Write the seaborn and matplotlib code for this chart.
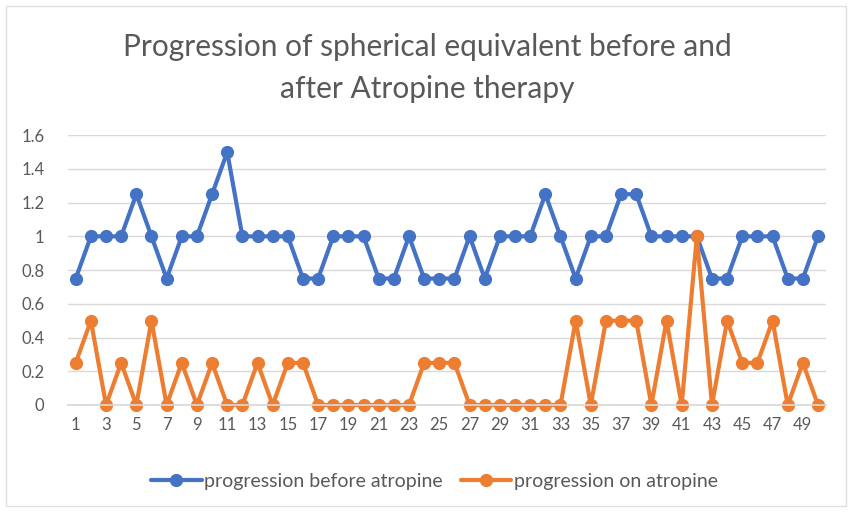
import numpy as np
import pandas as pd
import matplotlib.pyplot as plt
from matplotlib.patches import Rectangle
from matplotlib.lines import Line2D
import seaborn as sns

sns.set_theme(style="white")
plt.rcParams['font.family'] = ['Lato', 'DejaVu Sans']

# --- data ---
patients = list(range(1, 51))
before_atropine = [0.75, 1, 1, 1, 1.25, 1, 0.75, 1, 1, 1.25,
                   1.5, 1, 1, 1, 1, 0.75, 0.75, 1, 1, 1,
                   0.75, 0.75, 1, 0.75, 0.75, 0.75, 1, 0.75, 1, 1,
                   1, 1.25, 1, 0.75, 1, 1, 1.25, 1.25, 1, 1,
                   1, 1, 0.75, 0.75, 1, 1, 1, 0.75, 0.75, 1]
on_atropine = [0.25, 0.5, 0, 0.25, 0, 0.5, 0, 0.25, 0, 0.25,
               0, 0, 0.25, 0, 0.25, 0.25, 0, 0, 0, 0,
               0, 0, 0, 0.25, 0.25, 0.25, 0, 0, 0, 0,
               0, 0, 0, 0.5, 0, 0.5, 0.5, 0.5, 0, 0.5,
               0, 1, 0, 0.5, 0.25, 0.25, 0.5, 0, 0.25, 0]
series_names = ['progression before atropine', 'progression on atropine']
series_colors = ['#4472C4', '#ED7D31']
y_ticks = [0, 0.2, 0.4, 0.6, 0.8, 1, 1.2, 1.4, 1.6]
y_labels = ['0', '0.2', '0.4', '0.6', '0.8', '1', '1.2', '1.4', '1.6']
x_ticks = patients[::2]

df = pd.DataFrame({
    'patient': patients * 2,
    'value': before_atropine + on_atropine,
    'series': [series_names[0]] * len(patients) + [series_names[1]] * len(patients),
})

text_gray = '#595959'
lw = 3.0
ms = 9.5

fig = plt.figure(figsize=(8.52, 5.12), dpi=100)
ax = fig.add_axes([0.080, 0.209, 0.889, 0.527])

sns.lineplot(data=df, x='patient', y='value', hue='series',
             palette=dict(zip(series_names, series_colors)),
             marker='o', markersize=ms, markeredgewidth=0,
             linewidth=lw, ax=ax, legend=False)
for line in ax.lines:
    line.set_clip_on(False)

# axes styling (Excel look)
ax.set_xlim(0.5, 50.5)
ax.set_ylim(0, 1.6)
ax.set_yticks(y_ticks)
ax.set_yticklabels(y_labels)
ax.set_xticks(x_ticks)
ax.set_xticklabels([str(t) for t in x_ticks])
ax.set_xlabel('')
ax.set_ylabel('')
ax.grid(axis='y', color='#D9D9D9', linewidth=1)
ax.set_axisbelow(True)
for s in ['top', 'right', 'left']:
    ax.spines[s].set_visible(False)
ax.spines['bottom'].set_color('#D9D9D9')
ax.tick_params(axis='both', length=0, labelsize=12, labelcolor=text_gray)
ax.tick_params(axis='y', pad=17)
ax.tick_params(axis='x', pad=9)

# title
fig.text(0.502, 1 - 47 / 512, 'Progression of spherical equivalent before and',
         ha='center', va='center', fontsize=21.5, color=text_gray)
fig.text(0.502, 1 - 89 / 512, 'after Atropine therapy',
         ha='center', va='center', fontsize=21.5, color=text_gray)

# legend at the bottom
handles = [Line2D([0], [0], color=c, marker='o', markersize=ms, linewidth=lw,
                  markeredgewidth=0) for c in series_colors]
fig.legend(handles, series_names, loc='center', bbox_to_anchor=(0.51, 0.059),
           ncol=2, frameon=False, fontsize=14, handlelength=2.6,
           handletextpad=0.15, columnspacing=0.9, labelcolor=text_gray)

# chart border
fig.patches.append(Rectangle((6 / 852, 6 / 512), 840 / 852, 500 / 512,
                             transform=fig.transFigure, fill=False,
                             edgecolor='#E0E0E0', linewidth=1))

fig.savefig('out.png', dpi=100)
